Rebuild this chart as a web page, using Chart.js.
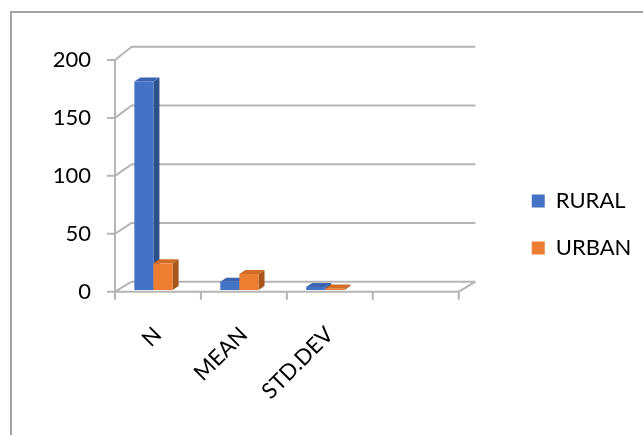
<!DOCTYPE html>
<html>
<head>
<meta charset="utf-8">
<script src="https://cdn.jsdelivr.net/npm/chart.js@4/dist/chart.umd.min.js"></script>
<style>
  html, body { margin: 0; padding: 0; background: #fff; overflow: hidden; }
  #frame { position: absolute; left: 10px; top: 11px; width: 700px; height: 500px;
           border-left: 2px solid #a3a3a3; border-top: 2px solid #a3a3a3; }
  #wrap { position: absolute; left: 0; top: 0; width: 643px; height: 435px; }
</style>
</head>
<body>
<div id="frame"></div>
<div id="wrap"><canvas id="c" width="643" height="435"></canvas></div>
<script>
// Categories and series
const categories = ['N', 'MEAN', 'STD.DEV', ''];
const rural = [180, 7.2, 2.6, null];
const urban = [23, 13.8, 1.4, null];
const yTicks = [0, 50, 100, 150, 200];

// Face colours: front, side, top
const shades = [
  ['#4472C4', '#2E5089', '#3C65B1'],
  ['#ED7D31', '#A9561C', '#D06C26']
];

const FONT = { family: 'Lato', size: 22 };
const WALL_DX = 16.7;          // depth of the floor / side wall
const WALL_DY_BOTTOM = -10;    // perspective: depth rise at the floor
const WALL_DY_TOP = -13.3;     // and at the top gridline
const BAR_DX = 6, BAR_DY = -4; // bar extrusion
const BAR_SHIFT_X = -4.5, BAR_SHIFT_Y = -1.7; // bars stand slightly behind the front edge

const pseudo3d = {
  id: 'pseudo3d',
  beforeDatasetsDraw(chart) {
    const { ctx, chartArea: a, scales: { x, y } } = chart;
    const y0 = y.getPixelForValue(y.min);
    const yTop = y.getPixelForValue(y.max);
    const dyAt = py => WALL_DY_BOTTOM + (WALL_DY_TOP - WALL_DY_BOTTOM) * (y0 - py) / (y0 - yTop);
    ctx.save();
    ctx.strokeStyle = '#b5b5b5';
    ctx.lineWidth = 2;
    ctx.lineJoin = 'round';
    ctx.beginPath();
    y.ticks.forEach(t => {
      const py = y.getPixelForValue(t.value);
      const dy = dyAt(py);
      ctx.moveTo(a.left - 8, py);
      ctx.lineTo(a.left, py);
      ctx.lineTo(a.left + WALL_DX, py + dy);
      ctx.lineTo(a.right + WALL_DX, py + dy);
    });
    ctx.moveTo(a.left, yTop);
    ctx.lineTo(a.left, y0);
    ctx.moveTo(a.left, y0);
    ctx.lineTo(a.right, y0);
    ctx.lineTo(a.right + WALL_DX, y0 + dyAt(y0));
    const n = categories.length;
    const step = (x.right - x.left) / n;
    for (let i = 0; i <= n; i++) {
      const px = x.left + step * i;
      ctx.moveTo(px, y0);
      ctx.lineTo(px, y0 + 8);
    }
    ctx.stroke();
    ctx.restore();
  },
  beforeDatasetDraw() { return false; },
  afterDatasetsDraw(chart) {
    const ctx = chart.ctx;
    const metas = chart.data.datasets.map((d, i) => chart.getDatasetMeta(i));
    ctx.save();
    for (let c = 0; c < categories.length; c++) {
      metas.forEach((m, di) => {
        const v = chart.data.datasets[di].data[c];
        const el = m.data[c];
        if (v === null || v === undefined || !el) return;
        const p = el.getProps(['x', 'y', 'base', 'width'], true);
        const l = p.x - p.width / 2 + BAR_SHIFT_X;
        const r = p.x + p.width / 2 + BAR_SHIFT_X;
        const t = p.y + BAR_SHIFT_Y;
        const b = p.base + BAR_SHIFT_Y;
        const [front, side, top] = shades[di];
        ctx.fillStyle = side;
        ctx.beginPath();
        ctx.moveTo(r, t); ctx.lineTo(r + BAR_DX, t + BAR_DY);
        ctx.lineTo(r + BAR_DX, b + BAR_DY); ctx.lineTo(r, b); ctx.closePath();
        ctx.fill();
        ctx.fillStyle = top;
        ctx.beginPath();
        ctx.moveTo(l, t); ctx.lineTo(l + BAR_DX, t + BAR_DY);
        ctx.lineTo(r + BAR_DX, t + BAR_DY); ctx.lineTo(r, t); ctx.closePath();
        ctx.fill();
        ctx.fillStyle = front;
        ctx.fillRect(l, t, r - l, b - t);
      });
    }
    ctx.restore();
  }
};

new Chart(document.getElementById('c'), {
  type: 'bar',
  data: {
    labels: categories,
    datasets: [
      { label: 'RURAL', data: rural, backgroundColor: shades[0][0], borderWidth: 0 },
      { label: 'URBAN', data: urban, backgroundColor: shades[1][0], borderWidth: 0 }
    ]
  },
  options: {
    responsive: false,
    animation: false,
    events: [],
    devicePixelRatio: 1,
    categoryPercentage: 0.445,
    barPercentage: 1,
    layout: { padding: { left: 0, top: 14, right: 1.6, bottom: 0 } },
    plugins: {
      // empty heading block that keeps the plot below the top margin
      title: { display: true, text: '', fullSize: false, padding: 0, font: { size: 40, lineHeight: 1.15 } },
      legend: {
        position: 'right',
        align: 'center',
        maxWidth: 200,
        labels: { boxWidth: 13, boxHeight: 13, padding: 25, color: '#000', font: FONT }
      },
      tooltip: { enabled: false }
    },
    scales: {
      x: {
        grid: { display: false, drawTicks: false },
        border: { display: false },
        ticks: { minRotation: 45, maxRotation: 45, autoSkip: false, padding: 30, color: '#000', font: FONT },
        afterFit(s) { s.height = 143.3; }
      },
      y: {
        min: 0, max: 200,
        afterBuildTicks(s) { s.ticks = yTicks.map(v => ({ value: v })); },
        grid: { display: false, drawTicks: false },
        border: { display: false },
        ticks: { padding: 24, color: '#000', font: FONT },
        afterFit(s) { s.width = 115; }
      },
      gap: {
        type: 'linear',
        position: 'right',
        grid: { display: false, drawTicks: false },
        border: { display: false },
        ticks: { display: false },
        afterFit(s) { s.width = 48; }
      }
    }
  },
  plugins: [pseudo3d]
});
</script>
</body>
</html>
